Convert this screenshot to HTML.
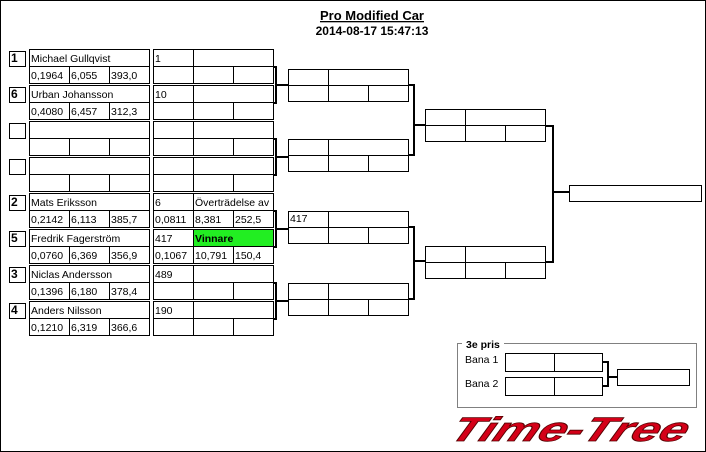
<!DOCTYPE html>
<html><head><meta charset="utf-8"><style>
html,body{margin:0;padding:0;background:#fff;}
svg{display:block;font-family:"Liberation Sans",sans-serif;}
text{font-size:10.5px;fill:#000;}
.b{font-weight:bold;}
</style></head><body>
<svg width="706" height="452" viewBox="0 0 706 452" xmlns="http://www.w3.org/2000/svg">
<rect x="0.5" y="0.5" width="705" height="451" fill="#fff" stroke="#000"/>
<text x="372" y="20" text-anchor="middle" class="b" style="font-size:13px;text-decoration:underline">Pro Modified Car</text>
<text x="372" y="35" text-anchor="middle" class="b" style="font-size:12px">2014-08-17 15:47:13</text>
<g fill="none" stroke="#000" stroke-width="1">
<g id="e0">
<rect x="9.5" y="51.5" width="16" height="15"/>
<rect x="29.5" y="49.5" width="120" height="34"/><line x1="29" y1="66.5" x2="150" y2="66.5"/><line x1="69.5" y1="67" x2="69.5" y2="84"/><line x1="109.5" y1="67" x2="109.5" y2="84"/>
<rect x="153.5" y="49.5" width="120" height="34"/><line x1="153" y1="66.5" x2="274" y2="66.5"/><line x1="193.5" y1="49" x2="193.5" y2="84"/><line x1="233.5" y1="67" x2="233.5" y2="84"/>
</g>
<use href="#e0" y="36"/><use href="#e0" y="72"/><use href="#e0" y="108"/><use href="#e0" y="144"/><use href="#e0" y="180"/><use href="#e0" y="216"/><use href="#e0" y="252"/>
<g id="r2">
<rect x="288.5" y="69.5" width="120" height="32"/><line x1="288" y1="85.5" x2="409" y2="85.5"/><line x1="328.5" y1="69" x2="328.5" y2="102"/><line x1="368.5" y1="86" x2="368.5" y2="102"/>
</g>
<use href="#r2" y="70"/><use href="#r2" y="142"/><use href="#r2" y="214"/>
<g id="r3">
<rect x="425.5" y="109.5" width="120" height="32"/><line x1="425" y1="125.5" x2="546" y2="125.5"/><line x1="465.5" y1="109" x2="465.5" y2="142"/><line x1="505.5" y1="126" x2="505.5" y2="142"/>
</g>
<use href="#r3" y="137"/>
<rect x="569.5" y="185.5" width="132" height="16"/>
<rect x="457.5" y="343.5" width="239" height="64" stroke="#808080"/>
<rect x="505.5" y="353.5" width="97" height="18"/><line x1="554.5" y1="353" x2="554.5" y2="372"/>
<rect x="505.5" y="377.5" width="97" height="18"/><line x1="554.5" y1="377" x2="554.5" y2="396"/>
<rect x="617.5" y="369.5" width="72" height="16"/>
</g>
<rect x="462" y="338" width="42" height="12" fill="#fff"/>
<text x="466" y="348" class="b">3e pris</text>
<text x="465" y="363">Bana 1</text>
<text x="465" y="387">Bana 2</text>
<g fill="none" stroke="#000" stroke-width="2">
<path d="M273 67H276V103H273M276 85H288"/>
<path d="M273 139H276V175H273M276 157H288"/>
<path d="M273 211H276V247H273M276 229H288"/>
<path d="M273 283H276V319H273M276 301H288"/>
<path d="M409 85H414V155H409M414 125H425"/>
<path d="M409 227H414V299H409M414 261H425"/>
<path d="M546 126H553V262H546M553 192H569"/>
<path d="M603 362H608V386H603M608 377H617"/>
</g>
<rect x="194" y="230" width="79" height="16" fill="#22ee22"/>
<g>
<text x="11" y="62" class="b" style="font-size:12px">1</text>
<text x="11" y="98" class="b" style="font-size:12px">6</text>
<text x="11" y="206" class="b" style="font-size:12px">2</text>
<text x="11" y="242" class="b" style="font-size:12px">5</text>
<text x="11" y="278" class="b" style="font-size:12px">3</text>
<text x="11" y="314" class="b" style="font-size:12px">4</text>

<text x="31" y="62">Michael Gullqvist</text>
<text x="31" y="79">0,1964</text><text x="71" y="79">6,055</text><text x="111" y="79">393,0</text>
<text x="155" y="62">1</text>
<text x="31" y="98">Urban Johansson</text>
<text x="31" y="115">0,4080</text><text x="71" y="115">6,457</text><text x="111" y="115">312,3</text>
<text x="155" y="98">10</text>

<text x="31" y="206">Mats Eriksson</text>
<text x="31" y="223">0,2142</text><text x="71" y="223">6,113</text><text x="111" y="223">385,7</text>
<text x="155" y="206">6</text><text x="195" y="206">Överträdelse av</text>
<text x="155" y="223">0,0811</text><text x="195" y="223">8,381</text><text x="235" y="223">252,5</text>

<text x="31" y="242">Fredrik Fagerström</text>
<text x="31" y="259">0,0760</text><text x="71" y="259">6,369</text><text x="111" y="259">356,9</text>
<text x="155" y="242">417</text><text x="195" y="242" class="b">Vinnare</text>
<text x="155" y="259">0,1067</text><text x="195" y="259">10,791</text><text x="235" y="259">150,4</text>

<text x="31" y="278">Niclas  Andersson</text>
<text x="31" y="295">0,1396</text><text x="71" y="295">6,180</text><text x="111" y="295">378,4</text>
<text x="155" y="278">489</text>

<text x="31" y="314">Anders Nilsson</text>
<text x="31" y="331">0,1210</text><text x="71" y="331">6,319</text><text x="111" y="331">366,6</text>
<text x="155" y="314">190</text>

<text x="290" y="222">417</text>
</g>
<text x="448" y="441" textLength="236" lengthAdjust="spacingAndGlyphs" transform="skewX(-24) translate(196 0)" style="font-size:34px;font-weight:bold;font-style:italic;fill:#d40018;stroke:#500;stroke-width:0.8">Time-Tree</text>
</svg>
</body></html>
